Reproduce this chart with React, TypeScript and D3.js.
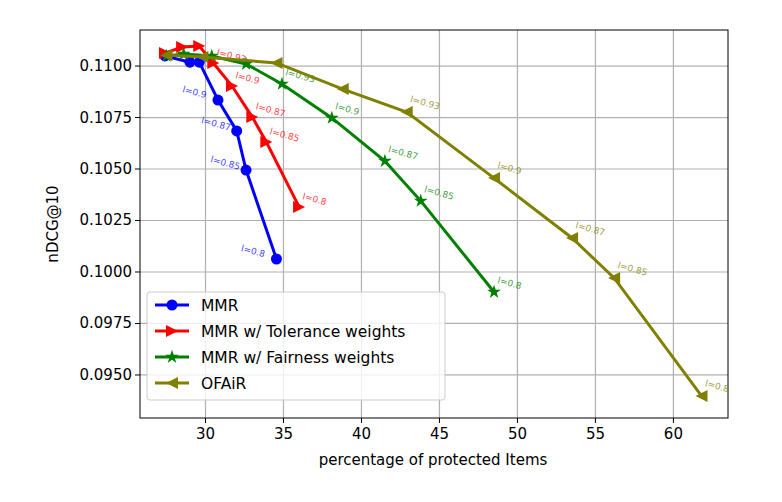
import React from 'react';
import * as d3 from 'd3';

const mmrX = [27.4, 29.0, 29.6, 30.8, 32.0, 32.6, 34.55];
const mmrY = [0.11049, 0.11019, 0.11019, 0.10835, 0.10685, 0.10495, 0.10063];
const mmrL = ['', '', '', 'l=0.9', 'l=0.87', 'l=0.85', 'l=0.8'];

const tolX = [27.4, 28.5, 29.6, 30.5, 31.7, 33.0, 33.9, 36.0];
const tolY = [0.11063, 0.11092, 0.11097, 0.11015, 0.10903, 0.10752, 0.10631, 0.10316];
const tolL = ['', '', '', 'l=0.93', 'l=0.9', 'l=0.87', 'l=0.85', 'l=0.8'];

const fairX = [27.5, 28.6, 30.4, 32.6, 34.9, 38.1, 41.5, 43.8, 48.5];
const fairY = [0.11049, 0.11058, 0.11049, 0.1101, 0.10913, 0.10748, 0.10539, 0.10345, 0.09903];
const fairL = ['', '', '', '', 'l=0.93', 'l=0.9', 'l=0.87', 'l=0.85', 'l=0.8'];

const ofaX = [27.5, 29.8, 34.55, 38.8, 42.9, 48.5, 53.5, 56.2, 61.8];
const ofaY = [0.11053, 0.11044, 0.11015, 0.10888, 0.10777, 0.10456, 0.10165, 0.09971, 0.09398];
const ofaL = ['', '', '', '', 'l=0.93', 'l=0.9', 'l=0.87', 'l=0.85', 'l=0.8'];

const xTicks = [30, 35, 40, 45, 50, 55, 60];
const yTicks = [0.095, 0.0975, 0.1, 0.1025, 0.105, 0.1075, 0.11];

const series = [
  { name: 'MMR', xs: mmrX, ys: mmrY, labels: mmrL, color: '#0000ff', marker: 'circle', lblDx: -36, lblDy: -8 },
  { name: 'MMR w/ Tolerance weights', xs: tolX, ys: tolY, labels: tolL, color: '#ff0000', marker: 'right', lblDx: 3, lblDy: -8 },
  { name: 'MMR w/ Fairness weights', xs: fairX, ys: fairY, labels: fairL, color: '#008000', marker: 'star', lblDx: 3, lblDy: -9 },
  { name: 'OFAiR', xs: ofaX, ys: ofaY, labels: ofaL, color: '#808000', marker: 'left', lblDx: 3, lblDy: -10 },
];

const FONT = 'DejaVu Sans, sans-serif';

function Marker({ kind, x, y, color }: { kind: string; x: number; y: number; color: string }) {
  if (kind === 'circle') return <circle cx={x} cy={y} r={5.5} fill={color} />;
  if (kind === 'star') {
    const p = d3.symbol(d3.symbolStar, 60)();
    return <path d={p || ''} transform={`translate(${x},${y})`} fill={color} />;
  }
  const s = 6;
  const d = kind === 'right'
    ? `M${x + s},${y}L${x - s},${y - s}L${x - s},${y + s}Z`
    : `M${x - s},${y}L${x + s},${y - s}L${x + s},${y + s}Z`;
  return <path d={d} fill={color} />;
}

export default function App() {
  const left = 140, right = 728, top = 30, bottom = 418;
  const x = d3.scaleLinear().domain([25.8, 63.5]).range([left, right]);
  const y = d3.scaleLinear().domain([0.09291, 0.11175]).range([bottom, top]);
  const line = d3.line<number>();

  return (
    <svg width={782} height={502} style={{ position: 'absolute', left: 0, top: 0 }} fontFamily={FONT}>
      <rect width={782} height={502} fill="#fff" />
      {xTicks.map((t) => (
        <g key={'x' + t}>
          <line x1={x(t)} x2={x(t)} y1={top} y2={bottom} stroke="#b0b0b0" strokeWidth={1.2} />
          <line x1={x(t)} x2={x(t)} y1={bottom} y2={bottom + 5} stroke="#000" />
          <text x={x(t)} y={bottom + 21} textAnchor="middle" fontSize={15}>{t}</text>
        </g>
      ))}
      {yTicks.map((t) => (
        <g key={'y' + t}>
          <line x1={left} x2={right} y1={y(t)} y2={y(t)} stroke="#b0b0b0" strokeWidth={1.2} />
          <line x1={left - 5} x2={left} y1={y(t)} y2={y(t)} stroke="#000" />
          <text x={left - 8} y={y(t) + 5} textAnchor="end" fontSize={15}>{t.toFixed(4)}</text>
        </g>
      ))}
      <rect x={left} y={top} width={right - left} height={bottom - top} fill="none" stroke="#000" strokeWidth={1} />
      <text x={433} y={465} textAnchor="middle" fontSize={15}>percentage of protected Items</text>
      <text transform={`translate(58,${(top + bottom) / 2}) rotate(-90)`} textAnchor="middle" fontSize={15}>nDCG@10</text>
      {series.map((s) => {
        const pts = s.xs.map((v, i) => [x(v), y(s.ys[i])] as [number, number]);
        return (
          <g key={s.name}>
            <path d={line(pts as any) || ''} fill="none" stroke={s.color} strokeWidth={3} />
            {pts.map((p, i) => (
              <Marker key={i} kind={s.marker} x={p[0]} y={p[1]} color={s.color} />
            ))}
            {pts.map((p, i) =>
              s.labels[i] ? (
                <text key={'l' + i} transform={`translate(${p[0] + s.lblDx},${p[1] + s.lblDy}) rotate(15)`}
                  fontSize={9} fill={s.color} opacity={0.75}>{s.labels[i]}</text>
              ) : null
            )}
          </g>
        );
      })}
      <g>
        <rect x={147} y={292} width={298} height={108} rx={3} fill="#fff" fillOpacity={0.8} stroke="#ccc" />
        {series.map((s, i) => {
          const ly = 305 + i * 26;
          return (
            <g key={'lg' + i}>
              <line x1={155} x2={189} y1={ly} y2={ly} stroke={s.color} strokeWidth={3} />
              <Marker kind={s.marker} x={172} y={ly} color={s.color} />
              <text x={201} y={ly + 5.5} fontSize={15.5}>{s.name}</text>
            </g>
          );
        })}
      </g>
    </svg>
  );
}
